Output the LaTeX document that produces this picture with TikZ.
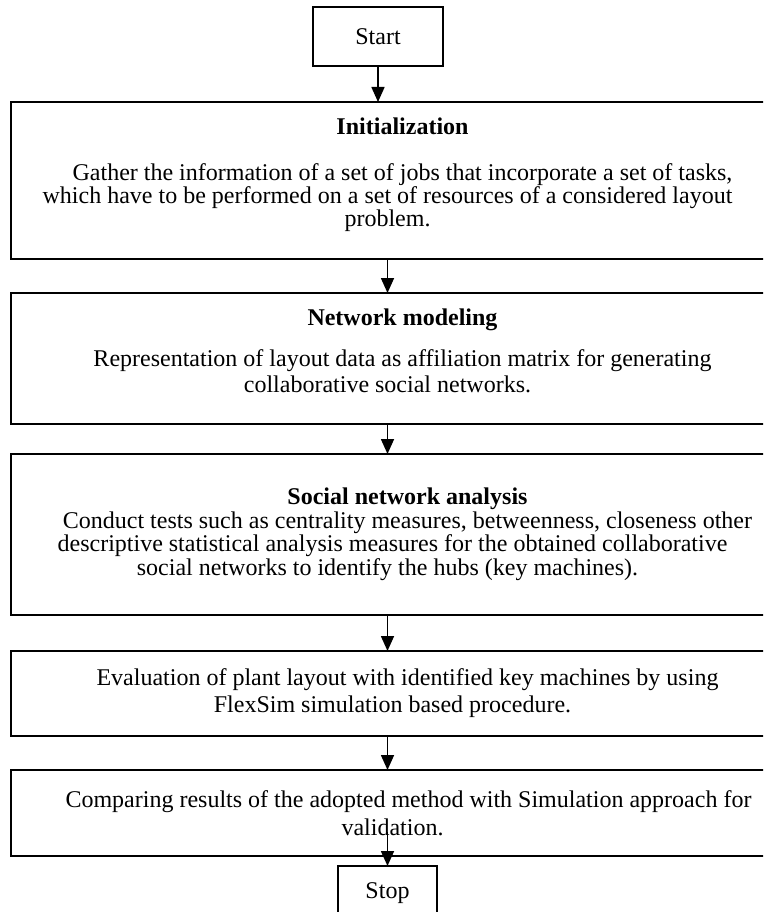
\documentclass[tikz,border=0pt]{standalone}
\usepackage{fontspec}
\setmainfont{Liberation Serif}
\usetikzlibrary{arrows.meta}
\usetikzlibrary{positioning}

\begin{document}
\begin{tikzpicture}[x=1pt,y=1pt,line width=1.6pt,>={Triangle[length=15pt,width=13pt]},node distance=34pt,
	every node/.style={font=\fontsize{24}{26.5}\selectfont,outer sep=0pt,inner sep=0pt},
	endbox/.style={draw,minimum height=59pt},
	stepbox/.style={draw,minimum width=753.6pt,align=center}]

	\useasboundingbox (0,0) rectangle (763,-912);
	\clip (0,0) rectangle (763,-912);

	\node[endbox,minimum width=130pt] (start) at (378,-36.5) {Start};
	\node[stepbox,minimum height=157pt,font=\fontsize{24}{22.8}\selectfont] (init) [below=36pt of start,xshift=9.5pt]
		{\hspace*{30pt}\textbf{Initialization}\\[23pt]
		\hspace*{30pt}Gather the information of a set of jobs that incorporate a set of tasks,\\
		which have to be performed on a set of resources of a considered layout\\
		problem.\rule[-17pt]{0pt}{17pt}};
	\node[stepbox,minimum height=131pt,font=\fontsize{24}{26}\selectfont] (net) [below=of init]
		{\hspace*{30pt}\textbf{Network modeling}\\[14.7pt]
		\hspace*{30pt}Representation of layout data as affiliation matrix for generating\\
		collaborative social networks.\rule[-15pt]{0pt}{15pt}};
	\node[stepbox,minimum height=161pt,font=\fontsize{24}{23.5}\selectfont] (sna) [below=30pt of net]
		{\hspace*{40pt}\textbf{Social network analysis}\\
		\hspace*{40pt}Conduct tests such as centrality measures, betweenness, closeness other\\
		\hspace*{10pt}descriptive statistical analysis measures for the obtained collaborative\\
		social networks to identify the hubs (key machines).};
	\node[stepbox,minimum height=85pt,font=\fontsize{24}{27}\selectfont] (eval) [below=36pt of sna]
		{\hspace*{40pt}Evaluation of plant layout with identified key machines by using\\
		\hspace*{10pt}FlexSim simulation based procedure.};
	\node[stepbox,minimum height=86pt,font=\fontsize{24}{28}\selectfont] (cmp) [below=of eval]
		{\hspace*{42pt}Comparing results of the adopted method with Simulation approach for\\
		\hspace*{10pt}validation.};
	\node[endbox,minimum width=99pt,minimum height=54pt] (stop) [below=10pt of cmp] {Stop};

	\path[->] (start) edge (start |- init.north)
	          (init) edge (net)
	          (net) edge (sna)
	          (sna) edge (eval)
	          (eval) edge (cmp)
	          ([yshift=24pt]cmp.south) edge (stop);

\end{tikzpicture}
\end{document}
